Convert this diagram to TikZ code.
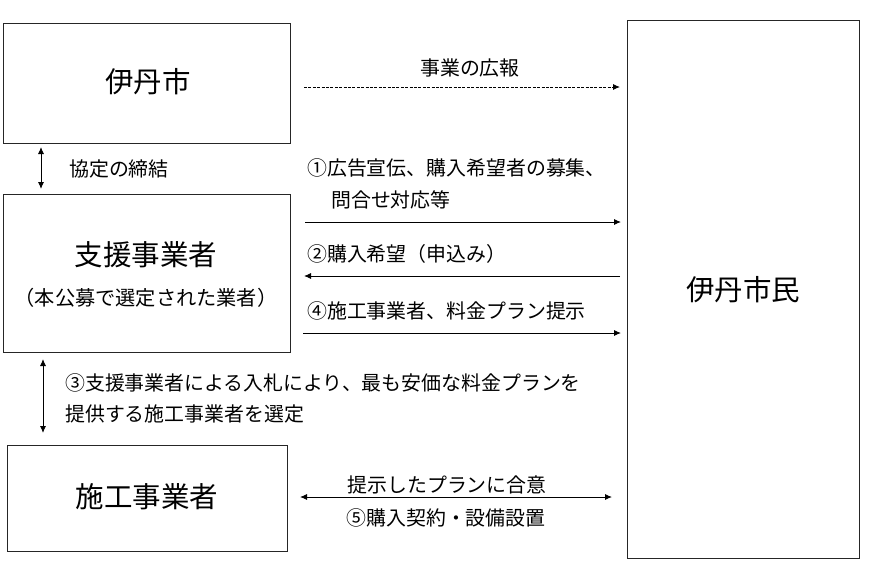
\documentclass[tikz,border=0pt]{standalone}
\usepackage{fontspec}
\setmainfont{Noto Sans CJK JP}
\usetikzlibrary{arrows.meta}
\begin{document}
\begin{tikzpicture}[x=1pt,y=-1pt,
  box/.style={draw=black!85,line width=0.9pt,rectangle,inner sep=0pt},
  big/.style={font=\fontsize{28.5}{32}\selectfont},
  lbl/.style={font=\fontsize{19.9}{24}\selectfont,inner sep=0pt},
  sub/.style={font=\fontsize{20.2}{24}\selectfont,inner sep=0pt},
  arr/.style={line width=0.9pt,-{Latex[length=7pt,width=6pt]}},
  darr/.style={line width=0.9pt,{Latex[length=7pt,width=6pt]}-{Latex[length=7pt,width=6pt]}}
]
\useasboundingbox (0,0) rectangle (886,565);
% boxes
\node[box,minimum width=287,minimum height=120] (city) at (146.5,83) {};
\node[big] (cityt) at (148,82) {伊丹市};
\node[box,minimum width=287,minimum height=158] (sup) at (146.5,273) {};
\node[big] (supt) at (146,255) {支援事業者};
\node[sub] (supsub) at (146,298) {（本公募で選定された業者）};
\node[box,minimum width=280,minimum height=106] (con) at (147,498) {};
\node[big] (cont) at (147,497) {施工事業者};
\node[box,minimum width=232,minimum height=538] (cit) at (743,289) {};
\node[big] (citt) at (743,290) {伊丹市民};
% top dashed arrow
\coordinate (p1s) at (304,87);
\coordinate (p1e) at (620,87);
\draw[arr,dash pattern=on 3pt off 1.4pt] (p1s) -- (p1e);
\node[lbl] (l0) at (470,68) {事業の広報};
% arrow 1
\node[lbl,anchor=west] (l1a) at (307,168) {①広告宣伝、購入希望者の募集、};
\node[lbl,anchor=west] (l1b) at (331,200) {問合せ対応等};
\coordinate (p2s) at (305,222);
\coordinate (p2e) at (621,222);
\draw[arr] (p2s) -- (p2e);
% arrow 2
\node[lbl,anchor=west] (l2) at (307,254) {②購入希望（申込み）};
\coordinate (p3s) at (620,276);
\coordinate (p3e) at (304,276);
\draw[arr] (p3s) -- (p3e);
% arrow 4
\node[lbl,anchor=west] (l4) at (307,311) {④施工事業者、料金プラン提示};
\coordinate (p4s) at (303,333);
\coordinate (p4e) at (621,333);
\draw[arr] (p4s) -- (p4e);
% vertical arrows
\coordinate (v1s) at (41,147);
\coordinate (v1e) at (41,189);
\draw[darr] (v1s) -- (v1e);
\node[lbl,anchor=west] (lv1) at (69,169) {協定の締結};
\coordinate (v2s) at (43,359);
\coordinate (v2e) at (43,433);
\draw[darr] (v2s) -- (v2e);
\node[lbl,anchor=west] (lv2a) at (65,383) {③支援事業者による入札により、最も安価な料金プランを};
\node[lbl,anchor=west] (lv2b) at (65,414) {提供する施工事業者を選定};
% arrow 5
\coordinate (p5s) at (300,497);
\coordinate (p5e) at (612,497);
\draw[darr] (p5s) -- (p5e);
\node[lbl] (l5a) at (447,485) {提示したプランに合意};
\node[lbl] (l5b) at (446,518) {⑤購入契約・設備設置};
\end{tikzpicture}
\end{document}
